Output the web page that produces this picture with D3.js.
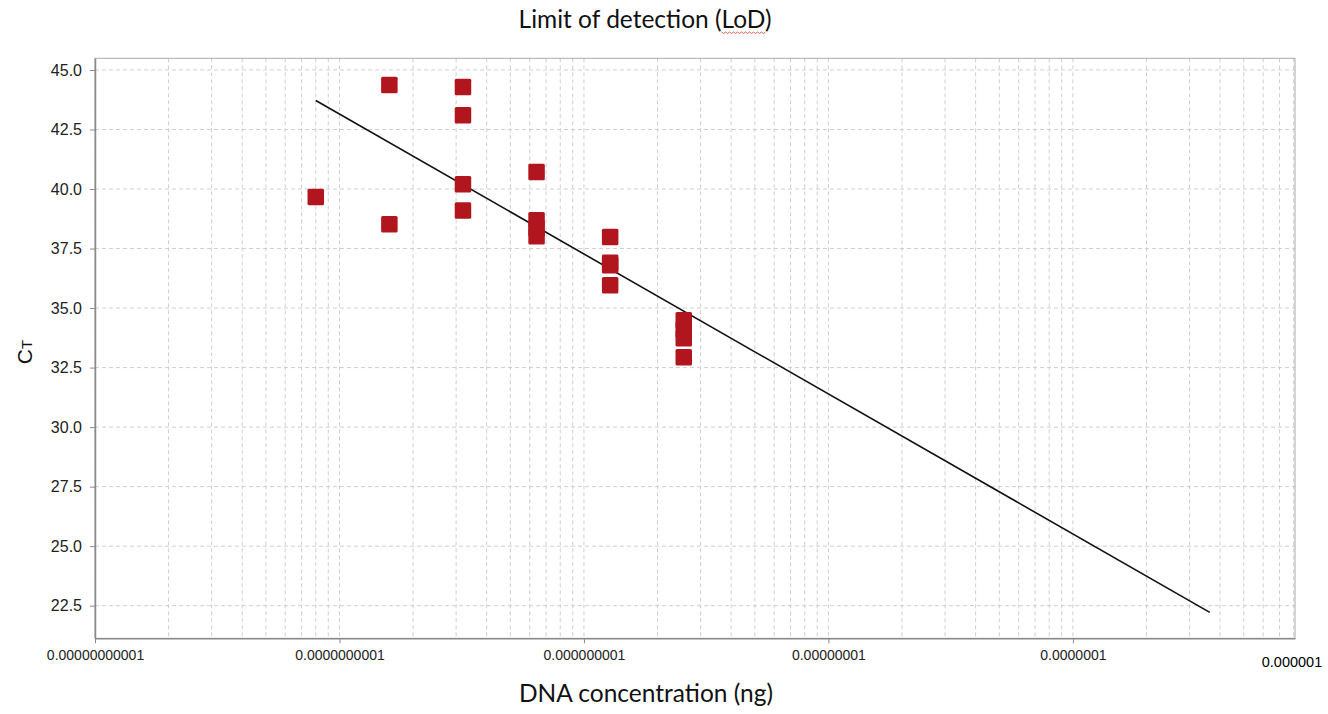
<!DOCTYPE html>
<html>
<head>
<meta charset="utf-8">
<script src="https://cdn.jsdelivr.net/npm/d3@7"></script>
<style>
  body { margin: 0; background: #fff; }
  svg { display: block; }
</style>
</head>
<body>
<svg id="chart" width="1328" height="714"></svg>
<script>
// Samples: DNA concentration (ng) and CT
const sampleConc = [8e-11,
  1.6e-10, 1.6e-10,
  3.2e-10, 3.2e-10, 3.2e-10, 3.2e-10,
  6.4e-10, 6.4e-10, 6.4e-10, 6.4e-10,
  1.28e-9, 1.28e-9, 1.28e-9, 1.28e-9,
  2.56e-9, 2.56e-9, 2.56e-9, 2.56e-9];
const sampleCt = [39.66,
  44.37, 38.52,
  44.28, 43.1, 40.2, 39.1,
  40.71, 38.69, 38.35, 38.02,
  37.98, 36.9, 36.8, 35.96,
  34.49, 34.1, 33.73, 32.93];

// regression line end points
const fitConc = [8e-11, 3.63e-7];
const fitCt = [43.72, 22.22];

const yTicks = [22.5, 25, 27.5, 30, 32.5, 35, 37.5, 40, 42.5, 45];
const xMajor = [1e-11, 1e-10, 1e-9, 1e-8, 1e-7];
const xLabels = ["0.00000000001", "0.0000000001", "0.000000001", "0.00000001", "0.0000001"];
const endLabel = "0.000001";

const MARGIN = { left: 95, top: 58.3, right: 33, bottom: 75.7 };
const svg = d3.select("#chart");
const W = 1328 - MARGIN.left - MARGIN.right;
const H = 714 - MARGIN.top - MARGIN.bottom;

const x = d3.scaleLog().domain([1e-11, 8.1e-7]).range([0, W]);
const y = d3.scaleLinear().domain([21.13, 45.49]).range([H, 0]);

const g = svg.append("g").attr("transform", `translate(${MARGIN.left},${MARGIN.top})`);

// grid
g.append("g").selectAll("line")
  .data(x.ticks())
  .join("line")
  .attr("x1", d => x(d)).attr("x2", d => x(d))
  .attr("y1", 0).attr("y2", H)
  .style("stroke", "#cfcfcf")
  .style("stroke-dasharray", "4,3");

g.append("g").selectAll("line")
  .data(yTicks)
  .join("line")
  .attr("x1", 0).attr("x2", W)
  .attr("y1", d => y(d)).attr("y2", d => y(d))
  .style("stroke", "#cfcfcf")
  .style("stroke-dasharray", "4,3");

// frame
g.append("rect")
  .attr("width", W).attr("height", H)
  .style("fill", "none")
  .style("stroke", "#aaa");

// y axis
const yAxis = g.append("g")
  .call(d3.axisLeft(y).tickValues(yTicks).tickFormat(d3.format(".1f")).tickSize(5).tickSizeOuter(0));
yAxis.select(".domain").style("stroke", "#8a8a8a").style("stroke-width", 1.5);
yAxis.selectAll(".tick line").style("stroke", "#8a8a8a");
yAxis.selectAll("text")
  .style("font-family", "Liberation Sans, Arial, sans-serif")
  .style("font-size", "16px")
  .style("fill", "#222")
  .attr("x", -13);

// x axis
const xAxis = g.append("g")
  .attr("transform", `translate(0,${H})`)
  .call(d3.axisBottom(x).tickValues(xMajor).tickFormat((d, i) => xLabels[i]).tickSize(5).tickSizeOuter(0));
xAxis.select(".domain").style("stroke", "#8a8a8a").style("stroke-width", 1.5);
xAxis.selectAll(".tick line").style("stroke", "#8a8a8a");
xAxis.selectAll("text")
  .style("font-family", "Liberation Sans, Arial, sans-serif")
  .style("font-size", "14px")
  .style("fill", "#222")
  .attr("y", 12);

g.append("text")
  .attr("x", W - 3)
  .attr("y", H + 29)
  .attr("text-anchor", "middle")
  .style("font-family", "Liberation Sans, Arial, sans-serif")
  .style("font-size", "14.5px")
  .style("fill", "#000")
  .text(endLabel);

// fit line
g.append("path")
  .datum(fitConc.map((c, i) => [c, fitCt[i]]))
  .attr("d", d3.line().x(d => x(d[0])).y(d => y(d[1])))
  .style("fill", "none")
  .style("stroke", "#111")
  .style("stroke-width", 1.6);

// points
const S = 16.5;
g.append("g").selectAll("rect")
  .data(sampleConc.map((c, i) => [c, sampleCt[i]]))
  .join("rect")
  .attr("x", d => x(d[0]) - S / 2)
  .attr("y", d => y(d[1]) - S / 2)
  .attr("width", S).attr("height", S)
  .attr("rx", 1.5)
  .style("fill", "#b1161f");

// titles
const title = svg.append("text")
  .attr("x", 645)
  .attr("y", 28)
  .attr("text-anchor", "middle")
  .style("font-family", "Lato, 'Open Sans', sans-serif")
  .style("font-size", "24.5px")
  .style("fill", "#111");
title.append("tspan").text("Limit of detection (");
title.append("tspan").text("LoD");
title.append("tspan").text(")");

// spell-check squiggle under "LoD"
const full = title.node();
const start = full.getStartPositionOfChar(20);
const endPos = full.getEndPositionOfChar(22);
let zig = `M${start.x},${32}`;
for (let px = start.x, k = 0; px < endPos.x; px += 2, k++) {
  zig += `L${px + 2},${k % 2 ? 32 : 33.5}`;
}
svg.append("path")
  .attr("d", zig)
  .style("fill", "none")
  .style("stroke", "#e03030")
  .style("stroke-width", 0.8);

svg.append("text")
  .attr("x", 646)
  .attr("y", 702)
  .attr("text-anchor", "middle")
  .style("font-family", "Lato, 'Open Sans', sans-serif")
  .style("font-size", "24.5px")
  .style("fill", "#111")
  .text("DNA concentration (ng)");

const yt = svg.append("text")
  .attr("transform", "translate(32,352) rotate(-90)")
  .attr("text-anchor", "middle")
  .style("font-family", "Liberation Sans, Arial, sans-serif")
  .style("fill", "#111");
yt.append("tspan").style("font-size", "21px").text("C");
yt.append("tspan").style("font-size", "15px").text("T");
</script>
</body>
</html>
